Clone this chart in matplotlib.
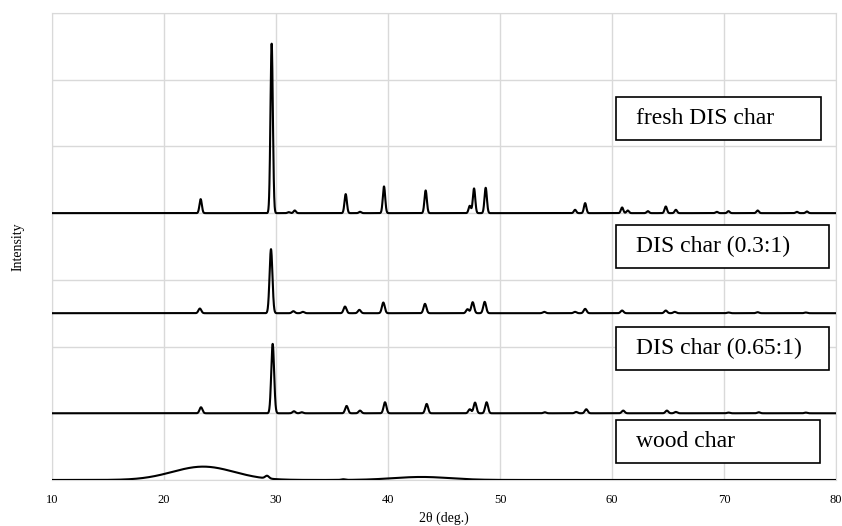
import numpy as np
import matplotlib.pyplot as plt
from matplotlib.patches import Rectangle

plt.rcParams['font.family'] = ['Liberation Serif', 'DejaVu Serif']

# 2-theta grid (deg.)
two_theta = np.linspace(10, 80, 7001)

# peak lists: position (deg.), height (a.u.), fwhm (deg.)
fresh_pos = [23.27, 29.61, 31.13, 31.67, 36.22, 37.5, 39.64, 43.36, 47.3, 47.68, 48.72,
             56.7, 57.6, 60.9, 61.4, 63.2, 64.8, 65.7, 69.35, 70.4, 73.0, 76.5, 77.4]
fresh_h = [0.21, 2.54, 0.015, 0.04, 0.285, 0.02, 0.40, 0.34, 0.11, 0.37, 0.38,
           0.05, 0.15, 0.085, 0.04, 0.03, 0.10, 0.05, 0.02, 0.03, 0.04, 0.02, 0.025]
fresh_w = 0.25

r03_pos = [23.2, 29.55, 31.55, 32.4, 36.16, 37.44, 39.58, 43.3, 47.1, 47.56, 48.63,
           53.95, 56.7, 57.6, 60.9, 64.8, 65.6, 70.4, 73.0, 77.3]
r03_h = [0.07, 0.96, 0.03, 0.02, 0.10, 0.05, 0.16, 0.14, 0.06, 0.165, 0.17,
         0.02, 0.02, 0.065, 0.04, 0.04, 0.02, 0.01, 0.015, 0.01]
r03_w = 0.3

r065_pos = [23.3, 29.7, 31.6, 32.3, 36.3, 37.5, 39.73, 43.45, 47.3, 47.77, 48.8,
            54.0, 56.8, 57.7, 61.0, 64.9, 65.7, 70.4, 73.1, 77.3]
r065_h = [0.09, 1.04, 0.03, 0.015, 0.11, 0.04, 0.165, 0.14, 0.06, 0.16, 0.165,
          0.015, 0.02, 0.06, 0.04, 0.04, 0.02, 0.01, 0.015, 0.01]
r065_w = 0.3

wood_pos = [23.5, 29.2, 36.0, 43.0]
wood_h = [0.20, 0.04, 0.01, 0.045]
wood_w = [6.5, 0.4, 0.4, 6.0]

# vertical offsets of the stacked patterns
offsets = [4.0, 2.5, 1.0, 0.0]
labels = ['fresh DIS char', 'DIS char (0.3:1)', 'DIS char (0.65:1)', 'wood char']


def pattern(pos, h, w):
    w = np.broadcast_to(w, len(pos))
    y = np.zeros_like(two_theta)
    for p, a, f in zip(pos, h, w):
        s = f / 2.3548
        y += a * np.exp(-0.5 * ((two_theta - p) / s) ** 2)
    return y


patterns = [pattern(fresh_pos, fresh_h, fresh_w),
            pattern(r03_pos, r03_h, r03_w),
            pattern(r065_pos, r065_h, r065_w),
            pattern(wood_pos, wood_h, wood_w)]

fig = plt.figure(figsize=(8.42, 5.26), dpi=100)
ax = fig.add_axes([0.0618, 0.0875, 0.9311, 0.8878])

for y, off in zip(patterns, offsets):
    ax.plot(two_theta, y + off, color='black', lw=1.5, zorder=3)

ax.set_xlim(10, 80)
ax.set_ylim(0, 7)
ax.set_xticks(np.arange(10, 81, 10))
ax.set_yticks(np.arange(0, 8, 1))
ax.set_yticklabels([])
ax.grid(True, color='#d9d9d9', lw=1.0)
ax.tick_params(length=0, labelsize=9, pad=10)
for sp in ax.spines.values():
    sp.set_color('#d9d9d9')

ax.set_xlabel('2θ (deg.)', fontsize=10, labelpad=4)
ax.set_ylabel('Intensity', fontsize=10, labelpad=10)

# label boxes (axes fraction)
box_y = [0.728, 0.454, 0.2355, 0.0364]
box_w = [0.2615, 0.2717, 0.2717, 0.2602]
for lab, by, bw in zip(labels, box_y, box_w):
    ax.add_patch(Rectangle((0.719, by), bw, 0.092, transform=ax.transAxes,
                           facecolor='white', edgecolor='black', lw=1.2, zorder=4))
    ax.text(0.745, by + 0.046, lab, transform=ax.transAxes, fontsize=17,
            va='center', ha='left', zorder=5)

fig.savefig('out.png', dpi=100)
